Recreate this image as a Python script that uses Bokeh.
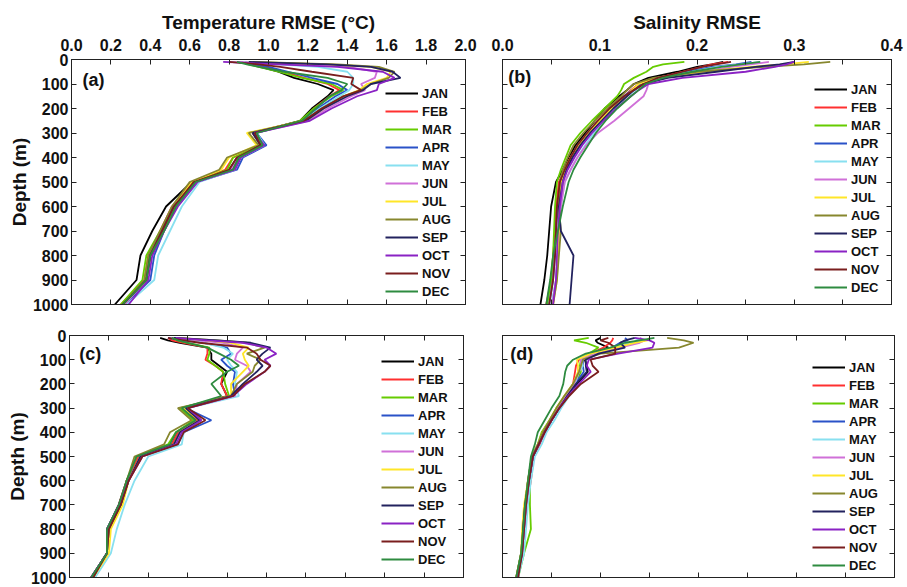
from bokeh.plotting import figure
from bokeh.models import Range1d, LinearAxis, FixedTicker, NumeralTickFormatter, Label, CustomLabelingPolicy
from bokeh.layouts import column, row
from bokeh.embed import file_html
from bokeh.resources import INLINE

# ---------------- data ----------------
depth = [10, 20, 30, 50, 75, 100, 125, 150, 200, 250, 300, 350, 400, 450, 500, 600, 700, 800, 900, 1000]
months = ["JAN", "FEB", "MAR", "APR", "MAY", "JUN", "JUL", "AUG", "SEP", "OCT", "NOV", "DEC"]
colors = ["#000000", "#ff3030", "#66cc00", "#2a52c8", "#88e0f0", "#d070d8",
          "#ffe628", "#87872e", "#22225e", "#8a22c4", "#7a1e1e", "#2e8b40"]

temp_ticks = [0.0, 0.2, 0.4, 0.6, 0.8, 1.0, 1.2, 1.4, 1.6, 1.8, 2.0]
sal_ticks = [0.0, 0.1, 0.2, 0.3, 0.4]
sal_minor = [0.05, 0.15, 0.25, 0.35]
depth_ticks = [0, 100, 200, 300, 400, 500, 600, 700, 800, 900, 1000]

# (a) temperature RMSE
ta_jan = [0.88, 0.92, 0.96, 1.05, 1.13, 1.25, 1.33, 1.30, 1.22, 1.16, 0.92, 0.96, 0.84, 0.80, 0.61, 0.48, 0.41, 0.35, 0.33, 0.22]
ta_feb = [0.86, 0.92, 0.98, 1.08, 1.18, 1.30, 1.36, 1.31, 1.23, 1.17, 0.92, 0.96, 0.82, 0.78, 0.61, 0.51, 0.45, 0.39, 0.37, 0.25]
ta_mar = [0.86, 0.90, 0.95, 1.05, 1.17, 1.32, 1.38, 1.32, 1.23, 1.16, 0.93, 0.96, 0.82, 0.79, 0.62, 0.52, 0.45, 0.38, 0.36, 0.25]
ta_apr = [0.84, 0.93, 1.00, 1.10, 1.22, 1.35, 1.40, 1.34, 1.25, 1.18, 0.94, 0.99, 0.87, 0.84, 0.64, 0.53, 0.47, 0.42, 0.40, 0.27]
ta_may = [0.87, 1.05, 1.25, 1.40, 1.43, 1.43, 1.41, 1.36, 1.26, 1.18, 0.94, 0.98, 0.86, 0.83, 0.65, 0.56, 0.50, 0.44, 0.42, 0.28]
ta_jun = [0.84, 1.15, 1.40, 1.55, 1.54, 1.47, 1.49, 1.42, 1.30, 1.20, 0.93, 0.97, 0.84, 0.81, 0.63, 0.53, 0.46, 0.40, 0.38, 0.27]
ta_jul = [0.90, 1.30, 1.52, 1.62, 1.60, 1.50, 1.46, 1.38, 1.28, 1.19, 0.89, 0.94, 0.80, 0.76, 0.61, 0.52, 0.46, 0.40, 0.38, 0.26]
ta_aug = [0.92, 1.35, 1.56, 1.64, 1.61, 1.52, 1.47, 1.38, 1.27, 1.18, 0.90, 0.95, 0.79, 0.75, 0.60, 0.51, 0.45, 0.39, 0.37, 0.26]
ta_sep = [0.90, 1.30, 1.52, 1.63, 1.67, 1.52, 1.48, 1.40, 1.28, 1.19, 0.92, 0.96, 0.85, 0.82, 0.63, 0.52, 0.46, 0.40, 0.38, 0.26]
ta_oct = [0.77, 1.05, 1.35, 1.58, 1.64, 1.56, 1.55, 1.45, 1.32, 1.21, 0.93, 0.98, 0.86, 0.83, 0.64, 0.54, 0.47, 0.41, 0.39, 0.29]
ta_nov = [0.80, 0.95, 1.06, 1.22, 1.43, 1.42, 1.47, 1.38, 1.27, 1.18, 0.93, 0.96, 0.84, 0.80, 0.62, 0.52, 0.46, 0.40, 0.38, 0.26]
ta_dec = [0.84, 0.89, 0.95, 1.08, 1.30, 1.40, 1.37, 1.31, 1.24, 1.17, 0.94, 0.97, 0.85, 0.82, 0.63, 0.53, 0.47, 0.40, 0.38, 0.26]

# (b) salinity RMSE
sb_jan = [0.227, 0.215, 0.200, 0.180, 0.150, 0.135, 0.128, 0.120, 0.105, 0.095, 0.085, 0.075, 0.068, 0.062, 0.055, 0.050, 0.048, 0.046, 0.043, 0.039]
sb_feb = [0.232, 0.215, 0.205, 0.185, 0.160, 0.140, 0.132, 0.125, 0.110, 0.098, 0.088, 0.078, 0.070, 0.064, 0.058, 0.055, 0.054, 0.052, 0.050, 0.045]
sb_mar = [0.187, 0.165, 0.155, 0.148, 0.135, 0.125, 0.122, 0.118, 0.105, 0.092, 0.080, 0.070, 0.065, 0.060, 0.056, 0.054, 0.053, 0.052, 0.050, 0.046]
sb_apr = [0.256, 0.240, 0.215, 0.190, 0.160, 0.142, 0.133, 0.125, 0.112, 0.100, 0.090, 0.080, 0.072, 0.066, 0.060, 0.057, 0.055, 0.054, 0.052, 0.048]
sb_may = [0.265, 0.245, 0.220, 0.195, 0.162, 0.145, 0.137, 0.128, 0.115, 0.104, 0.094, 0.085, 0.077, 0.070, 0.064, 0.060, 0.058, 0.057, 0.055, 0.050]
sb_jun = [0.274, 0.255, 0.235, 0.205, 0.165, 0.150, 0.148, 0.145, 0.130, 0.115, 0.098, 0.086, 0.077, 0.070, 0.064, 0.060, 0.058, 0.057, 0.055, 0.051]
sb_jul = [0.315, 0.290, 0.255, 0.205, 0.160, 0.140, 0.133, 0.128, 0.112, 0.100, 0.088, 0.078, 0.070, 0.064, 0.060, 0.058, 0.058, 0.057, 0.056, 0.052]
sb_aug = [0.337, 0.310, 0.270, 0.200, 0.155, 0.135, 0.128, 0.122, 0.108, 0.095, 0.083, 0.073, 0.067, 0.062, 0.059, 0.058, 0.060, 0.058, 0.056, 0.052]
sb_sep = [0.300, 0.285, 0.260, 0.220, 0.170, 0.145, 0.135, 0.128, 0.114, 0.102, 0.090, 0.080, 0.072, 0.066, 0.062, 0.058, 0.060, 0.073, 0.071, 0.069]
sb_oct = [0.300, 0.292, 0.280, 0.250, 0.185, 0.150, 0.140, 0.132, 0.117, 0.104, 0.092, 0.082, 0.074, 0.067, 0.062, 0.059, 0.057, 0.056, 0.055, 0.052]
sb_nov = [0.235, 0.220, 0.205, 0.185, 0.160, 0.145, 0.135, 0.125, 0.110, 0.098, 0.087, 0.077, 0.070, 0.064, 0.059, 0.056, 0.055, 0.054, 0.052, 0.048]
sb_dec = [0.265, 0.245, 0.225, 0.195, 0.165, 0.147, 0.140, 0.132, 0.118, 0.106, 0.096, 0.088, 0.080, 0.073, 0.068, 0.062, 0.057, 0.052, 0.049, 0.045]

# (c) temperature RMSE
tc_jan = [0.46, 0.50, 0.56, 0.70, 0.72, 0.72, 0.76, 0.80, 0.77, 0.80, 0.58, 0.65, 0.55, 0.52, 0.35, 0.29, 0.25, 0.19, 0.19, 0.11]
tc_feb = [0.50, 0.52, 0.58, 0.70, 0.70, 0.69, 0.74, 0.78, 0.77, 0.80, 0.58, 0.65, 0.55, 0.52, 0.35, 0.29, 0.25, 0.20, 0.19, 0.11]
tc_mar = [0.52, 0.55, 0.60, 0.71, 0.71, 0.70, 0.74, 0.78, 0.79, 0.81, 0.56, 0.63, 0.54, 0.50, 0.34, 0.29, 0.26, 0.20, 0.19, 0.12]
tc_apr = [0.50, 0.58, 0.68, 0.80, 0.82, 0.77, 0.80, 0.84, 0.83, 0.84, 0.59, 0.72, 0.58, 0.55, 0.36, 0.30, 0.26, 0.20, 0.19, 0.12]
tc_may = [0.53, 0.60, 0.68, 0.78, 0.83, 0.80, 0.82, 0.85, 0.84, 0.86, 0.60, 0.67, 0.58, 0.57, 0.40, 0.33, 0.28, 0.24, 0.21, 0.13]
tc_jun = [0.52, 0.65, 0.78, 0.88, 0.85, 0.84, 0.90, 0.92, 0.85, 0.84, 0.60, 0.66, 0.56, 0.53, 0.36, 0.30, 0.26, 0.19, 0.19, 0.11]
tc_jul = [0.55, 0.70, 0.82, 0.91, 0.88, 0.89, 0.91, 0.88, 0.82, 0.82, 0.58, 0.66, 0.56, 0.53, 0.36, 0.30, 0.27, 0.21, 0.20, 0.12]
tc_aug = [0.55, 0.75, 0.90, 0.99, 0.90, 0.97, 0.94, 0.93, 0.85, 0.82, 0.55, 0.62, 0.51, 0.48, 0.33, 0.29, 0.26, 0.20, 0.19, 0.12]
tc_sep = [0.53, 0.75, 0.92, 1.02, 0.98, 0.95, 0.98, 0.95, 0.88, 0.82, 0.59, 0.66, 0.56, 0.53, 0.36, 0.30, 0.26, 0.19, 0.19, 0.11]
tc_oct = [0.54, 0.70, 0.88, 1.00, 1.05, 0.99, 1.02, 0.99, 0.90, 0.83, 0.60, 0.67, 0.57, 0.54, 0.37, 0.30, 0.25, 0.19, 0.19, 0.11]
tc_nov = [0.50, 0.58, 0.66, 0.90, 0.95, 0.97, 1.02, 0.99, 0.89, 0.83, 0.60, 0.69, 0.58, 0.55, 0.37, 0.30, 0.26, 0.20, 0.19, 0.12]
tc_dec = [0.52, 0.55, 0.60, 0.70, 0.76, 0.82, 0.86, 0.80, 0.72, 0.77, 0.57, 0.64, 0.54, 0.51, 0.34, 0.29, 0.25, 0.19, 0.19, 0.11]

# (d) salinity RMSE
sd_jan = [0.100, 0.095, 0.097, 0.108, 0.092, 0.084, 0.086, 0.087, 0.076, 0.066, 0.057, 0.050, 0.042, 0.037, 0.030, 0.026, 0.023, 0.021, 0.019, 0.014]
sd_feb = [0.113, 0.112, 0.110, 0.103, 0.090, 0.078, 0.075, 0.074, 0.072, 0.065, 0.057, 0.050, 0.043, 0.038, 0.032, 0.029, 0.025, 0.022, 0.020, 0.015]
sd_mar = [0.088, 0.073, 0.085, 0.098, 0.088, 0.080, 0.079, 0.080, 0.074, 0.064, 0.055, 0.048, 0.040, 0.036, 0.030, 0.028, 0.028, 0.029, 0.022, 0.016]
sd_apr = [0.125, 0.128, 0.120, 0.112, 0.095, 0.082, 0.082, 0.083, 0.074, 0.065, 0.058, 0.050, 0.043, 0.037, 0.031, 0.027, 0.024, 0.022, 0.020, 0.015]
sd_may = [0.135, 0.140, 0.130, 0.115, 0.095, 0.080, 0.082, 0.078, 0.074, 0.068, 0.060, 0.053, 0.045, 0.040, 0.033, 0.029, 0.026, 0.024, 0.022, 0.016]
sd_jun = [0.140, 0.145, 0.140, 0.120, 0.095, 0.080, 0.080, 0.078, 0.073, 0.065, 0.057, 0.050, 0.043, 0.037, 0.031, 0.027, 0.024, 0.022, 0.020, 0.014]
sd_jul = [0.150, 0.148, 0.135, 0.115, 0.090, 0.076, 0.077, 0.077, 0.072, 0.063, 0.055, 0.048, 0.041, 0.036, 0.030, 0.026, 0.022, 0.020, 0.019, 0.014]
sd_aug = [0.168, 0.185, 0.195, 0.180, 0.100, 0.082, 0.080, 0.078, 0.072, 0.063, 0.055, 0.048, 0.041, 0.036, 0.030, 0.026, 0.023, 0.021, 0.019, 0.014]
sd_sep = [0.135, 0.125, 0.120, 0.125, 0.098, 0.085, 0.085, 0.086, 0.075, 0.066, 0.058, 0.050, 0.043, 0.037, 0.031, 0.027, 0.023, 0.021, 0.020, 0.015]
sd_oct = [0.135, 0.150, 0.155, 0.153, 0.118, 0.088, 0.086, 0.090, 0.078, 0.067, 0.058, 0.050, 0.043, 0.037, 0.031, 0.027, 0.024, 0.022, 0.020, 0.015]
sd_nov = [0.108, 0.100, 0.108, 0.115, 0.115, 0.090, 0.092, 0.098, 0.080, 0.068, 0.058, 0.050, 0.043, 0.037, 0.031, 0.027, 0.024, 0.022, 0.020, 0.016]
sd_dec = [0.155, 0.140, 0.125, 0.110, 0.085, 0.072, 0.066, 0.064, 0.062, 0.058, 0.050, 0.043, 0.036, 0.033, 0.029, 0.026, 0.023, 0.021, 0.019, 0.014]

panel_a = [ta_jan, ta_feb, ta_mar, ta_apr, ta_may, ta_jun, ta_jul, ta_aug, ta_sep, ta_oct, ta_nov, ta_dec]
panel_b = [sb_jan, sb_feb, sb_mar, sb_apr, sb_may, sb_jun, sb_jul, sb_aug, sb_sep, sb_oct, sb_nov, sb_dec]
panel_c = [tc_jan, tc_feb, tc_mar, tc_apr, tc_may, tc_jun, tc_jul, tc_aug, tc_sep, tc_oct, tc_nov, tc_dec]
panel_d = [sd_jan, sd_feb, sd_mar, sd_apr, sd_may, sd_jun, sd_jul, sd_aug, sd_sep, sd_oct, sd_nov, sd_dec]

FONT = "Liberation Sans"
FRAME = "#222222"
NO_LABELS = "for (const i of indices) { indices.unset(i) }\nreturn indices"


def style_axis(ax, show_labels):
    ax.axis_line_color = FRAME
    ax.major_tick_line_color = FRAME
    ax.minor_tick_line_color = FRAME
    ax.major_tick_in = 5
    ax.major_tick_out = 0
    ax.minor_tick_in = 5
    ax.minor_tick_out = 0
    ax.major_label_text_font = FONT
    ax.major_label_text_font_style = "bold"
    ax.major_label_text_color = "#111111"
    ax.axis_label_text_font = FONT
    ax.axis_label_text_font_style = "bold"
    ax.axis_label_text_color = "#111111"
    ax.axis_label_text_font_size = "19px"
    if show_labels:
        ax.major_label_text_font_size = "16px"
    else:
        ax.major_label_text_font_size = "2px"
        ax.major_label_standoff = 0
        ax.major_label_policy = CustomLabelingPolicy(code=NO_LABELS)


def make_panel(data, xmax, xticks, xminor, top_title, show_top_labels, show_left_labels,
               tag, tag_xy, legend_xy, width, height, borders):
    left_b, right_b, top_b, bottom_b = borders
    p = figure(width=width, height=height, x_range=Range1d(0, xmax), y_range=Range1d(1000, 0),
               output_backend="svg", toolbar_location=None,
               x_axis_location=None, y_axis_location=None,
               min_border_left=left_b, min_border_right=right_b,
               min_border_top=top_b, min_border_bottom=bottom_b)
    p.outline_line_color = FRAME
    p.background_fill_color = "white"
    p.border_fill_color = "white"
    p.grid.visible = False

    top = LinearAxis(ticker=FixedTicker(ticks=xticks, minor_ticks=xminor),
                     formatter=NumeralTickFormatter(format="0.0"))
    style_axis(top, show_top_labels)
    if show_top_labels:
        top.major_label_standoff = 9
        top.axis_label = top_title
        top.axis_label_standoff = 3
    p.add_layout(top, "above")

    bottom = LinearAxis(ticker=FixedTicker(ticks=xticks, minor_ticks=xminor))
    style_axis(bottom, False)
    p.add_layout(bottom, "below")

    left = LinearAxis(ticker=FixedTicker(ticks=depth_ticks, minor_ticks=[]))
    style_axis(left, show_left_labels)
    if show_left_labels:
        left.major_label_standoff = 3
        left.axis_label = "Depth (m)"
        left.axis_label_standoff = 0
    p.add_layout(left, "left")

    right = LinearAxis(ticker=FixedTicker(ticks=depth_ticks, minor_ticks=[]))
    style_axis(right, False)
    p.add_layout(right, "right")

    for vals, name, col in zip(data, months, colors):
        p.line(vals, depth, line_color=col, line_width=1.8, legend_label=name)

    lg = p.legend[0]
    lg.location = legend_xy
    lg.padding = 0
    lg.margin = 0
    lg.spacing = 0
    lg.glyph_width = 33
    lg.glyph_height = 18
    lg.label_height = 18
    lg.label_standoff = 4
    lg.label_text_font = FONT
    lg.label_text_font_style = "bold"
    lg.label_text_font_size = "13px"
    lg.label_text_color = "#111111"
    lg.background_fill_alpha = 0
    lg.border_line_alpha = 0

    p.add_layout(Label(x=tag_xy[0], y=tag_xy[1], text=tag, text_font=FONT,
                       text_font_style="bold", text_font_size="18px",
                       text_baseline="middle", text_align="left", text_color="#111111"))
    return p


pa = make_panel(panel_a, 2.0, temp_ticks, [], "Temperature RMSE (\u00b0C)", True, True,
                "(a)", (0.056, 85), (314, 4), 486, 319, (71, 21, 59, 15))
pb = make_panel(panel_b, 0.4, sal_ticks, sal_minor, "Salinity RMSE", True, False,
                "(b)", (0.006, 72), (312, 8), 421, 319, (16, 16, 59, 15))
pc = make_panel(panel_c, 2.0, temp_ticks, [], "", False, True,
                "(c)", (0.05, 75), (312, 9), 486, 268, (69, 23, 16, 10))
pd = make_panel(panel_d, 0.4, sal_ticks, sal_minor, "", False, False,
                "(d)", (0.008, 78), (310, 3), 421, 268, (16, 13, 16, 10))

layout = column(row(pa, pb), row(pc, pd))
open("out.html", "w").write(file_html(layout, INLINE))
